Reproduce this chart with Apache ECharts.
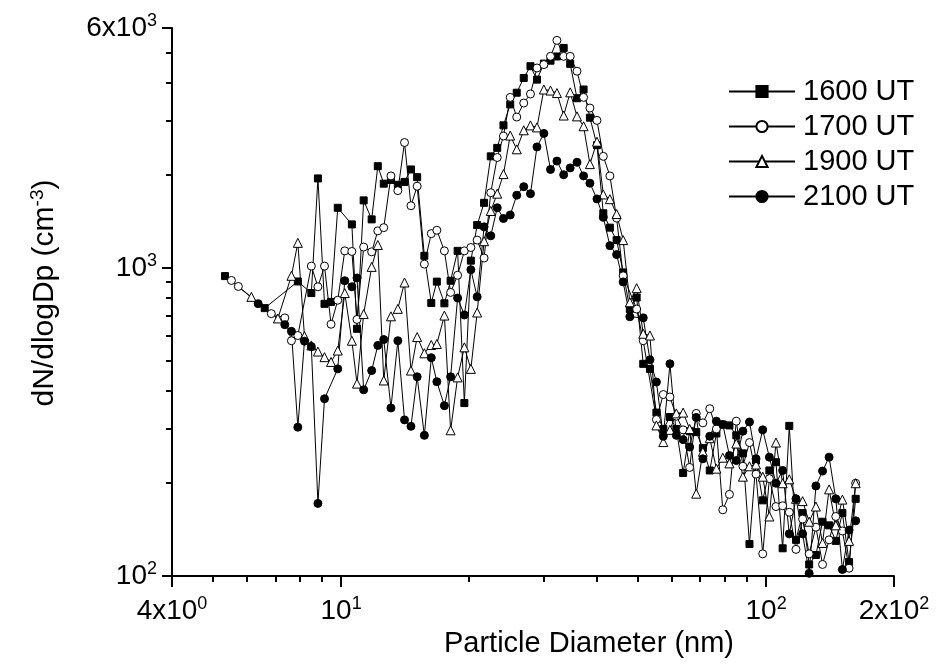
<!DOCTYPE html>
<html>
<head>
<meta charset="utf-8">
<title>Particle size distribution</title>
<script src="https://cdn.jsdelivr.net/npm/echarts@6.0.0/dist/echarts.min.js"></script>
</head>
<body style="margin:0">
<div id="main" style="width:938px;height:671px;"></div>
<script>
// SMPS bin midpoints (nm)
var diameters = [
    5.33, 5.52, 5.73, 5.94, 6.15, 6.38, 6.61, 6.85, 7.10, 7.37,
    7.64, 7.91, 8.20, 8.51, 8.82, 9.14, 9.47, 9.82, 10.2, 10.6,
    10.9, 11.3, 11.8, 12.2, 12.6, 13.1, 13.6, 14.1, 14.6, 15.1,
    15.7, 16.3, 16.8, 17.5, 18.1, 18.8, 19.5, 20.2, 20.9, 21.7,
    22.5, 23.3, 24.1, 25.0, 25.9, 26.9, 27.9, 28.9, 30.0, 31.1,
    32.2, 33.4, 34.6, 35.9, 37.2, 38.5, 40.0, 41.4, 42.9, 44.5,
    46.1, 47.8, 49.6, 51.4, 53.3, 55.2, 57.3, 59.4, 61.5, 63.8,
    66.1, 68.5, 71.0, 73.7, 76.4, 79.1, 82.0, 85.1, 88.2, 91.4,
    94.7, 98.2, 101.8, 105.5, 109.4, 113.4, 117.6, 121.9, 126.3, 131.0,
    135.8, 140.7, 145.9, 151.2, 156.8, 162.5
];

// dN/dlogDp (cm-3), null = no point
var ut1600 = [
    940, null, null, null, null, null, 740, null, null, null,
    null, 903, null, 828, 1950, 764, 775, 1566, null, 1383,
    634, 1655, 1436, 2137, 1875, 1928, 1860, 1900, 2085, 1968,
    1094, 769, 902, 767, 908, 1135, 364, 1055, 1376, 1625,
    2300, 2450, 2900, 3390, 3700, 4130, 4510, 4080, 4600, 4700,
    4850, 5170, 4590, 3550, 3790, 3070, 2500, 1503, 1350, 1230,
    966, 735, 801, 488, 470, 339, 300, 328, 300, 216,
    295, 293, 260, 220, 290, 310, 308, 286, 250, 127,
    237, 176, 220, 234, 123, 307, 131, 160, 109, 117,
    150, 146, 130, 160, 111, 178
];
var ut1700 = [
    null, 910, 870, null, null, null, null, 710, null, 688,
    580, 603, null, 1013, 868, 1013, 656, 785, 1135, 1130,
    680, 1168, 1127, 1318, 1350, 1987, 1780, 2550, 1590, 1840,
    1028, 1291, 1324, 1135, 832, 946, 1135, 1164, 1230, 1076,
    1753, 2280, 2677, 3573, 3085, 3425, 3665, 4450, 4565, 4855,
    5470, 4855, 4855, 4345, 3573, 3300, 3008, 2300, 1987, 1450,
    942, null, 735, 580, null, 322, 388, 381, 330, 298,
    225, 337, 314, 349, 300, 164, 184, 318, 227, 271,
    214, 118, 207, 168, 169, 161, 122, 153, 118, 144,
    109, 131, 156, 140, 106, 200
];
var ut1900 = [
    null, null, null, null, 805, null, null, null, 685, null,
    942, 1205, 600, 560, 535, 513, 495, 539, 828, 580,
    421, 708, 1007, 1186, 431, 696, 736, 896, 464, 596,
    528, 562, 566, 700, 297, 441, 552, 470, 716, 1220,
    1529, 1740, 2014, 2686, 2424, 2794, 2898, 2855, 3790, 3760,
    3690, 3120, 3710, 3100, 2880, 2170, 2566, 1730, 1670, 1494,
    1230, 773, 859, 611, 603, 308, 272, 298, 337, 339,
    300, 185, 253, 280, 223, 242, 232, 269, 210, 227,
    230, 210, 156, 271, 200, 206, 178, 175, 150, 168,
    128, 191, 146, 177, 130, 200
];
var ut2100 = [
    null, null, null, null, null, 765, null, null, null, 654,
    622, 304, 578, 555, 172, 376, null, 470, 908, 868,
    927, 402, 464, 560, 585, 351, 580, 321, 306, 443,
    286, 511, 427, 357, 443, 798, 703, 986, 805, 1358,
    1270, 1566, 1446, 1484, 1720, 1833, 1740, 2468, 2730, 2085,
    2220, 2005, 2110, 2200, 1987, 1882, 1673, 1458, 1180, 1104,
    900, 694, null, 688, 503, 426, 284, 488, 286, 277,
    262, 327, 240, 284, 318, 310, 246, 237, 295, 316,
    240, 298, 243, 200, 220, 137, 178, 137, 102, 196,
    219, 243, 178, 105, 141, 151
];

var seriesNames = ['1600 UT', '1700 UT', '1900 UT', '2100 UT'];

// axis ticks
var xMajorTicks = [4, 10, 100, 200];
var xMinorTicks = [5, 6, 7, 8, 9, 20, 30, 40, 50, 60, 70, 80, 90];
var yMajorTicks = [100, 1000, 6000];
var yMinorTicks = [200, 300, 400, 500, 600, 700, 800, 900, 2000, 3000, 4000, 5000];
var xTickText = { 4: ['4x10', '0'], 10: ['10', '1'], 100: ['10', '2'], 200: ['2x10', '2'] };
var yTickText = { 100: ['10', '2'], 1000: ['10', '3'], 6000: ['6x10', '3'] };

var font = 'Liberation Sans, Arial, sans-serif';
var tickRich = {
    b: { fontSize: 28, fontFamily: font, color: '#000', lineHeight: 32 },
    s: { fontSize: 18, fontFamily: font, color: '#000', verticalAlign: 'top', lineHeight: 32 }
};
var titleRich = {
    b: { fontSize: 30, fontFamily: font, color: '#000', lineHeight: 34 },
    s: { fontSize: 19, fontFamily: font, color: '#000', verticalAlign: 'top', lineHeight: 34 }
};

function pairs(values) {
    var out = [];
    for (var i = 0; i < diameters.length; i++) {
        if (values[i] != null) out.push([diameters[i], values[i]]);
    }
    return out;
}

function makeSeries(name, values, symbol, size, fill) {
    return {
        name: name,
        type: 'line',
        data: pairs(values),
        symbol: symbol,
        symbolSize: size,
        showSymbol: true,
        lineStyle: { color: '#000', width: 1 },
        itemStyle: { color: fill, borderColor: '#000', borderWidth: 1 },
        emphasis: { disabled: true }
    };
}

var chart = echarts.init(document.getElementById('main'));
var option = {
    animation: false,
    backgroundColor: '#fff',
    grid: { left: 172, right: 44, top: 28, bottom: 95 },
    legend: {
        orient: 'vertical',
        left: 723,
        top: 72,
        itemWidth: 66,
        itemHeight: 14,
        itemGap: 6,
        data: seriesNames,
        textStyle: { fontSize: 29, fontFamily: font, color: '#000', lineHeight: 28, padding: [0, 0, 0, 3] }
    },
    xAxis: [{
        type: 'log',
        position: 'bottom',
        min: 4,
        max: 200,
        name: 'Particle Diameter (nm)',
        nameLocation: 'middle',
        nameGap: 52,
        nameTextStyle: { fontSize: 29, fontFamily: font, color: '#000', padding: [0, 0, 0, 112] },
        axisLine: { lineStyle: { color: '#000', width: 2 } },
        axisTick: { customValues: xMajorTicks, length: 11, lineStyle: { color: '#000', width: 2 } },
        axisLabel: {
            customValues: xMajorTicks,
            margin: 19,
            formatter: function (v) {
                var t = xTickText[Math.round(v)];
                return '{b|' + t[0] + '}{s|' + t[1] + '}';
            },
            rich: tickRich
        },
        splitLine: { show: false }
    }, {
        type: 'log',
        position: 'bottom',
        min: 4,
        max: 200,
        axisLine: { show: false },
        axisTick: { customValues: xMinorTicks, length: 6, lineStyle: { color: '#000', width: 2 } },
        axisLabel: { show: false },
        splitLine: { show: false }
    }],
    yAxis: [{
        type: 'log',
        position: 'left',
        min: 100,
        max: 6000,
        name: '{b|dN/dlogDp (cm}{s|-3}{b|)}',
        nameLocation: 'middle',
        nameGap: 110,
        nameRotate: 90,
        nameTextStyle: { rich: titleRich, padding: [0, 0, 0, 18] },
        axisLine: { lineStyle: { color: '#000', width: 2 } },
        axisTick: { customValues: yMajorTicks, length: 10, lineStyle: { color: '#000', width: 2 } },
        axisLabel: {
            customValues: yMajorTicks,
            margin: 15,
            formatter: function (v) {
                var t = yTickText[Math.round(v)];
                return '{b|' + t[0] + '}{s|' + t[1] + '}';
            },
            rich: tickRich
        },
        splitLine: { show: false }
    }, {
        type: 'log',
        position: 'left',
        min: 100,
        max: 6000,
        axisLine: { show: false },
        axisTick: { customValues: yMinorTicks, length: 6, lineStyle: { color: '#000', width: 2 } },
        axisLabel: { show: false },
        splitLine: { show: false }
    }],
    series: [
        makeSeries(seriesNames[0], ut1600, 'rect', 7, '#000'),
        makeSeries(seriesNames[1], ut1700, 'circle', 8, '#fff'),
        makeSeries(seriesNames[2], ut1900, 'triangle', 9, '#fff'),
        makeSeries(seriesNames[3], ut2100, 'circle', 8, '#000')
    ]
};
chart.setOption(option);
</script>
</body>
</html>
